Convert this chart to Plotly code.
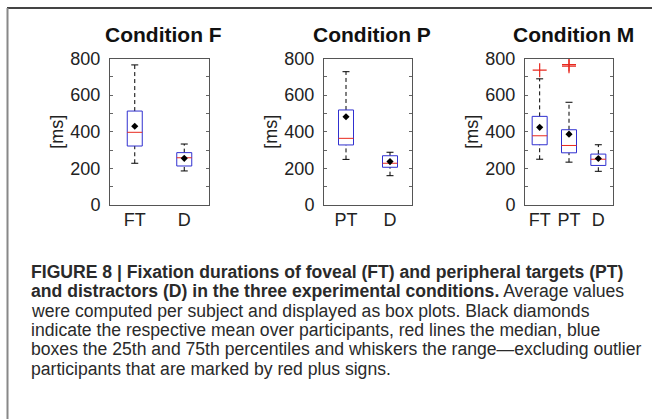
import plotly.graph_objects as go

# ---------------- data ----------------
titles = ["Condition F", "Condition P", "Condition M"]
cats_F = ["FT", "D"]
cats_P = ["PT", "D"]
cats_M = ["FT", "PT", "D"]

q1_F = [322, 213]; med_F = [397, 258]; q3_F = [513, 286]
lo_F = [228, 186]; hi_F = [765, 333]; mean_F = [430, 255]
out_F = [[], []]

q1_P = [328, 206]; med_P = [364, 228]; q3_P = [519, 269]
lo_P = [249, 160]; hi_P = [728, 288]; mean_P = [482, 237]
out_P = [[], []]

q1_M = [329, 285, 216]; med_M = [378, 325, 250]; q3_M = [484, 411, 278]
lo_M = [250, 234, 184]; hi_M = [689, 561, 329]; mean_M = [424, 387, 254]
out_M = [[736], [767, 758], []]

y_ticks = [0, 200, 400, 600, 800]

panels = [
    (titles[0], cats_F, q1_F, med_F, q3_F, lo_F, hi_F, mean_F, out_F),
    (titles[1], cats_P, q1_P, med_P, q3_P, lo_P, hi_P, mean_P, out_P),
    (titles[2], cats_M, q1_M, med_M, q3_M, lo_M, hi_M, mean_M, out_M),
]

# ---------------- layout geometry ----------------
W, H = 652, 419
x_dom_px = [(110, 209), (324, 412), (525, 613)]
y_dom_px = (58.5, 205)
BOX_PX = 15
CAP_PX = 7

fig = go.Figure()
FONT = "Liberation Sans, Arial, Helvetica, sans-serif"
TXT = "#222222"
BLUE = "#3030d0"
RED = "#e8281e"

layout = dict(
    width=W, height=H, margin=dict(l=0, r=0, t=0, b=0, pad=0, autoexpand=False),
    paper_bgcolor="white", plot_bgcolor="white", showlegend=False,
    font=dict(family=FONT, color=TXT),
)
annotations = []

for i, (title, cats, q1, med, q3, lo, hi, mean, outs) in enumerate(panels):
    sfx = "" if i == 0 else str(i + 1)
    xa, ya = "x" + sfx, "y" + sfx
    n = len(cats)
    pos = list(range(1, n + 1))
    x0p, x1p = x_dom_px[i]
    px_per_unit = (x1p - x0p) / n
    bw = BOX_PX / px_per_unit
    cw = CAP_PX / px_per_unit

    for k, p in enumerate(pos):
        # whiskers (dashed)
        fig.add_trace(go.Scatter(x=[p, p], y=[q3[k], hi[k]], mode="lines",
                                 line=dict(color="black", width=1, dash="4px,3px"),
                                 xaxis=xa, yaxis=ya, hoverinfo="skip"))
        fig.add_trace(go.Scatter(x=[p, p], y=[lo[k], q1[k]], mode="lines",
                                 line=dict(color="black", width=1, dash="4px,3px"),
                                 xaxis=xa, yaxis=ya, hoverinfo="skip"))
        # caps
        for v in (hi[k], lo[k]):
            fig.add_trace(go.Scatter(x=[p - cw / 2, p + cw / 2], y=[v, v], mode="lines",
                                     line=dict(color="black", width=1),
                                     xaxis=xa, yaxis=ya, hoverinfo="skip"))
        # box (25th-75th percentile)
        fig.add_trace(go.Scatter(
            x=[p - bw / 2, p + bw / 2, p + bw / 2, p - bw / 2, p - bw / 2],
            y=[q1[k], q1[k], q3[k], q3[k], q1[k]], mode="lines",
            line=dict(color=BLUE, width=1), xaxis=xa, yaxis=ya, hoverinfo="skip"))
        # median
        fig.add_trace(go.Scatter(x=[p - bw / 2, p + bw / 2], y=[med[k], med[k]], mode="lines",
                                 line=dict(color=RED, width=1),
                                 xaxis=xa, yaxis=ya, hoverinfo="skip"))
        # mean
        fig.add_trace(go.Scatter(x=[p], y=[mean[k]], mode="markers",
                                 marker=dict(symbol="diamond", size=5.5, color="black"),
                                 xaxis=xa, yaxis=ya))
        # outliers
        if outs[k]:
            fig.add_trace(go.Scatter(x=[p] * len(outs[k]), y=outs[k], mode="markers",
                                     marker=dict(symbol="cross-thin", size=10,
                                                 line=dict(color=RED, width=1.2)),
                                     xaxis=xa, yaxis=ya))

    layout["xaxis" + sfx] = dict(
        domain=[x0p / W, x1p / W], range=[0.5, n + 0.5],
        tickvals=pos, ticktext=cats, ticks="", showgrid=False, zeroline=False,
        showline=True, mirror=True, linecolor="#555555", linewidth=1,
        tickfont=dict(size=18, color=TXT), ticklabelstandoff=-2,
        anchor=ya, fixedrange=True, automargin=False,
    )
    layout["yaxis" + sfx] = dict(
        domain=[1 - y_dom_px[1] / H, 1 - y_dom_px[0] / H], range=[0, 800],
        tickvals=y_ticks, ticks="inside", ticklen=3, tickcolor="#666666",
        minor=dict(dtick=100, ticks="inside", ticklen=3, tickcolor="#666666"),
        showgrid=False, zeroline=False,
        showline=True, mirror="ticks", linecolor="#555555", linewidth=1,
        tickfont=dict(size=18, color=TXT), ticklabelstandoff=5,
        title=dict(text="[ms]", font=dict(size=18, color=TXT), standoff=2),
        anchor=xa, fixedrange=True, automargin=False,
    )
    annotations.append(dict(
        text="<b>%s</b>" % title, x=(x0p + x1p) / 2 / W + 4 / W, y=1 - 35 / H,
        xref="paper", yref="paper", xanchor="center", yanchor="middle",
        showarrow=False, font=dict(size=21, color="#111111", family=FONT),
    ))

caption = [
    "<b>FIGURE 8 | Fixation durations of foveal (FT) and peripheral targets (PT)</b>",
    "<b>and distractors (D) in the three experimental conditions.</b> Average values",
    "were computed per subject and displayed as box plots. Black diamonds",
    "indicate the respective mean over participants, red lines the median, blue",
    "boxes the 25th and 75th percentiles and whiskers the range\u2014excluding outlier",
    "participants that are marked by red plus signs.",
]
for j, line in enumerate(caption):
    annotations.append(dict(
        text=line, x=29 / W, y=1 - (271.7 + 19.4 * j) / H,
        xref="paper", yref="paper", xanchor="left", yanchor="middle",
        showarrow=False, font=dict(size=17.6, color="#2a2a2a", family=FONT),
    ))

layout["annotations"] = annotations
layout["shapes"] = [
    dict(type="line", xref="paper", yref="paper", x0=7 / W, x1=1, y0=1 - 8 / H, y1=1 - 8 / H,
         line=dict(color="#444444", width=2)),
    dict(type="line", xref="paper", yref="paper", x0=7.5 / W, x1=7.5 / W, y0=0, y1=1 - 8 / H,
         line=dict(color="#888888", width=2)),
]
fig.update_layout(**layout)
fig.write_html(
    "out.html",
    config={"displayModeBar": False},
    post_script="document.body.style.margin='0';document.body.style.overflow='hidden';",
)
